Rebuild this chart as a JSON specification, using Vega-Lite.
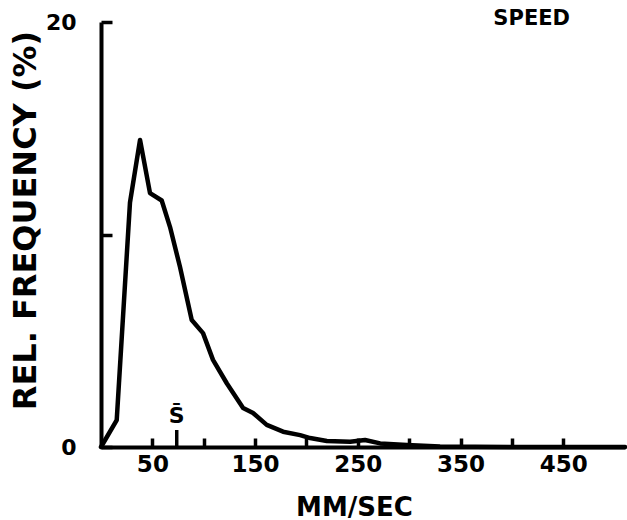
{
  "$schema": "https://vega.github.io/schema/vega-lite/v6.json",
  "width": 524,
  "height": 425,
  "autosize": {"type": "none"},
  "padding": {"left": 101, "top": 22, "right": 2, "bottom": 73},
  "background": "white",
  "title": {
    "text": "SPEED",
    "anchor": "end",
    "frame": "group",
    "font": "DejaVu Sans",
    "fontWeight": "bold",
    "fontSize": 21,
    "color": "black",
    "baseline": "alphabetic",
    "offset": 0,
    "dy": 35,
    "dx": -55
  },
  "config": {
    "view": {"stroke": null},
    "axis": {
      "domainColor": "black",
      "domainWidth": 4,
      "tickColor": "black",
      "tickWidth": 3.5,
      "grid": false,
      "labelFont": "DejaVu Sans",
      "labelFontWeight": "bold",
      "labelColor": "black",
      "titleFont": "DejaVu Sans",
      "titleFontWeight": "bold",
      "titleColor": "black"
    }
  },
  "datasets": {
    "speed": [
      {"speed": 0, "freq": 0},
      {"speed": 15.3, "freq": 1.27},
      {"speed": 28.2, "freq": 11.5},
      {"speed": 38, "freq": 14.45},
      {"speed": 47.7, "freq": 11.95},
      {"speed": 59.1, "freq": 11.6},
      {"speed": 67.2, "freq": 10.35},
      {"speed": 76.9, "freq": 8.47},
      {"speed": 88.3, "freq": 5.98},
      {"speed": 99.3, "freq": 5.36},
      {"speed": 109, "freq": 4.1},
      {"speed": 122.4, "freq": 3.0},
      {"speed": 138.3, "freq": 1.84},
      {"speed": 148, "freq": 1.6},
      {"speed": 161.3, "freq": 1.04},
      {"speed": 177.2, "freq": 0.72},
      {"speed": 193.8, "freq": 0.56},
      {"speed": 203.5, "freq": 0.42},
      {"speed": 219.8, "freq": 0.28},
      {"speed": 242.5, "freq": 0.25},
      {"speed": 257, "freq": 0.33},
      {"speed": 271.7, "freq": 0.17},
      {"speed": 297.7, "freq": 0.09},
      {"speed": 330, "freq": 0.02},
      {"speed": 400, "freq": 0},
      {"speed": 510, "freq": 0}
    ],
    "mean": [{"speed": 73.7, "label": "S̄"}]
  },
  "layer": [
    {
      "data": {"name": "speed"},
      "mark": {"type": "line", "color": "black", "strokeWidth": 4.5, "strokeJoin": "round", "strokeCap": "round"},
      "encoding": {
        "x": {
          "field": "speed",
          "type": "quantitative",
          "scale": {"domain": [0, 510], "nice": false, "zero": false},
          "axis": {
            "values": [50, 100, 150, 200, 250, 300, 350, 400, 450],
            "labelExpr": "datum.value % 100 == 50 ? datum.label : ''",
            "tickSize": -9,
            "labelPadding": 15,
            "labelFontSize": 23,
            "labelBaseline": "top",
            "title": "MM/SEC",
            "titleFontSize": 26,
            "titleX": 253,
            "titleY": 68,
            "titleBaseline": "alphabetic",
            "titleAlign": "center"
          }
        },
        "y": {
          "field": "freq",
          "type": "quantitative",
          "scale": {"domain": [0, 20], "nice": false},
          "axis": {
            "values": [0, 10, 20],
            "labelExpr": "datum.value == 10 ? '' : datum.label",
            "tickSize": -11,
            "labelPadding": 36,
            "labelFontSize": 22,
            "title": "REL. FREQUENCY (%)",
            "titleFontSize": 32,
            "titleAngle": -90,
            "titleX": -66,
            "titleY": 198,
            "titleAlign": "center",
            "titleBaseline": "alphabetic"
          }
        }
      }
    },
    {
      "data": {"name": "mean"},
      "mark": {"type": "rule", "color": "black", "strokeWidth": 3.5},
      "encoding": {
        "x": {"field": "speed", "type": "quantitative"},
        "y": {"datum": 0},
        "y2": {"datum": 0.8}
      }
    },
    {
      "data": {"name": "mean"},
      "mark": {"type": "text", "font": "DejaVu Sans", "fontWeight": "bold", "fontSize": 22, "color": "black", "baseline": "alphabetic", "dy": -3},
      "encoding": {
        "x": {"field": "speed", "type": "quantitative"},
        "y": {"datum": 1.0},
        "text": {"field": "label"}
      }
    }
  ]
}
